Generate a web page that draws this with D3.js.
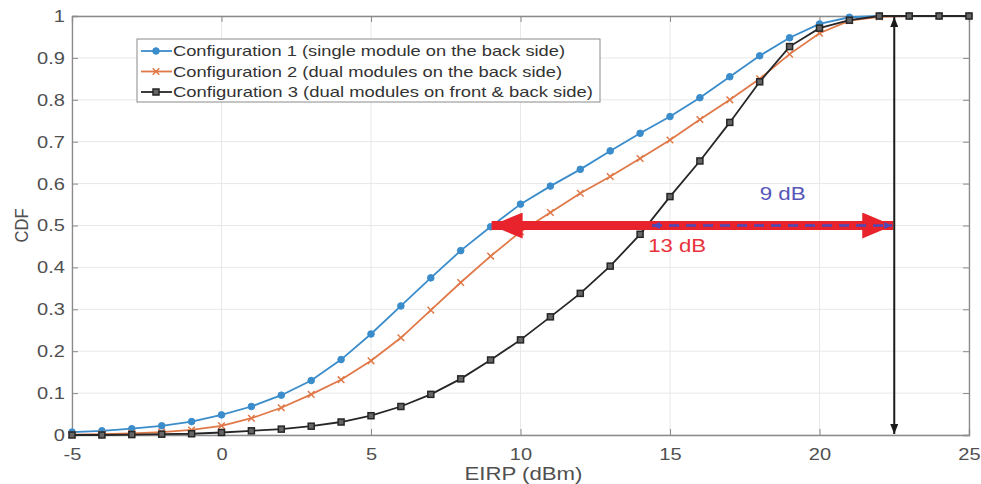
<!DOCTYPE html>
<html>
<head>
<meta charset="utf-8">
<script src="https://cdn.jsdelivr.net/npm/d3@7"></script>
<style>
  body { margin: 0; background: #fff; }
  svg { font-family: "Liberation Sans", Arial, sans-serif; }
</style>
</head>
<body>
<svg id="chart" width="981" height="484"></svg>
<script>
// EIRP values (dBm)
const eirp = d3.range(-5, 26);
// CDF values
const config1 = [0.007, 0.01, 0.015, 0.022, 0.032, 0.048, 0.068, 0.095, 0.13, 0.18, 0.241,
  0.308, 0.375, 0.44, 0.497, 0.551, 0.594, 0.634, 0.678, 0.72, 0.76, 0.805, 0.855, 0.905,
  0.948, 0.981, 0.997, 1, 1, 1, 1];
const config2 = [0.001, 0.002, 0.004, 0.007, 0.012, 0.022, 0.04, 0.065, 0.097, 0.132, 0.177,
  0.232, 0.298, 0.364, 0.427, 0.485, 0.531, 0.577, 0.617, 0.66, 0.704, 0.753, 0.8, 0.85,
  0.909, 0.959, 0.989, 0.998, 1, 1, 1];
const config3 = [0, 0, 0.001, 0.002, 0.003, 0.006, 0.01, 0.014, 0.021, 0.031, 0.046,
  0.068, 0.097, 0.134, 0.179, 0.227, 0.282, 0.338, 0.403, 0.479, 0.569, 0.654, 0.746, 0.843,
  0.927, 0.971, 0.99, 1, 1, 1, 1];
const xTicks = [-5, 0, 5, 10, 15, 20, 25];
const yTicks = [0, 0.1, 0.2, 0.3, 0.4, 0.5, 0.6, 0.7, 0.8, 0.9, 1];
const legendLabels = [
  'Configuration 1 (single module on the back side)',
  'Configuration 2 (dual modules on the back side)',
  'Configuration 3 (dual modules on front & back  side)'
];
// annotation values
const refCdf = 0.5;
const gapStart13 = 9, gapStart9 = 14.4, gapEnd = 22.5;

const margin = { top: 16, right: 12, bottom: 49, left: 72 };
const svg = d3.select('#chart');
const width = 981 - margin.left - margin.right;
const height = 484 - margin.top - margin.bottom;
const g = svg.append('g').attr('transform', `translate(${margin.left},${margin.top})`);

const x = d3.scaleLinear().domain([-5, 25]).range([0, width]);
const y = d3.scaleLinear().domain([0, 1]).range([height, 0]);

// grid
g.append('g').selectAll('line').data(xTicks).join('line')
  .attr('x1', d => x(d)).attr('x2', d => x(d)).attr('y1', 0).attr('y2', height)
  .attr('stroke', '#e8e8e8').attr('stroke-width', 1);
g.append('g').selectAll('line').data(yTicks).join('line')
  .attr('y1', d => y(d)).attr('y2', d => y(d)).attr('x1', 0).attr('x2', width)
  .attr('stroke', '#e8e8e8').attr('stroke-width', 1);

// axes (inner ticks, box)
const axisColor = '#8a8a8a';
const plain = d => d.toString();
const xAxis = g.append('g').attr('transform', `translate(0,${height})`)
  .call(d3.axisBottom(x).tickValues(xTicks).tickSize(-6).tickPadding(13).tickFormat(plain));
const xTop = g.append('g').call(d3.axisTop(x).tickValues(xTicks).tickSize(-6).tickFormat(''));
const yAxis = g.append('g')
  .call(d3.axisLeft(y).tickValues(yTicks).tickSize(-6).tickPadding(7).tickFormat(plain));
const yRight = g.append('g').attr('transform', `translate(${width},0)`)
  .call(d3.axisRight(y).tickValues(yTicks).tickSize(-6).tickFormat(''));
[xAxis, xTop, yAxis, yRight].forEach(a => {
  a.select('.domain').attr('stroke', axisColor).attr('stroke-width', 1.3);
  a.selectAll('.tick line').attr('stroke', axisColor);
  a.selectAll('.tick text').attr('fill', '#505050').style('font-size', '17px')
    .attr('textLength', function () { return this.getComputedTextLength() * 1.18; })
    .attr('lengthAdjust', 'spacingAndGlyphs');
});

// axis labels
g.append('text').attr('x', x(10.1)).attr('y', height + 45)
  .attr('text-anchor', 'middle').attr('fill', '#505050').style('font-size', '18px')
  .attr('textLength', 118).attr('lengthAdjust', 'spacingAndGlyphs')
  .text('EIRP (dBm)');
g.append('text').attr('transform', `translate(${-44},${y(0.5)}) rotate(-90)`)
  .attr('text-anchor', 'middle').attr('fill', '#505050').style('font-size', '18px')
  .attr('textLength', 34).attr('lengthAdjust', 'spacingAndGlyphs')
  .text('CDF');

// series
const series = [
  { values: config1, color: '#3a8ccb', marker: 'circle' },
  { values: config2, color: '#e07848', marker: 'cross' },
  { values: config3, color: '#262626', marker: 'square' }
];
const line = d3.line().x(d => x(d[0])).y(d => y(d[1]));

function drawMarker(sel, type, color) {
  if (type === 'circle') {
    sel.append('circle').attr('r', 3.3).attr('fill', color).attr('stroke', color);
  } else if (type === 'cross') {
    sel.append('path').attr('d', 'M-3.3,-3.3L3.3,3.3M-3.3,3.3L3.3,-3.3')
      .attr('stroke', color).attr('stroke-width', 1.5);
  } else {
    sel.append('rect').attr('x', -3).attr('y', -3).attr('width', 6).attr('height', 6)
      .attr('fill', '#666').attr('stroke', color).attr('stroke-width', 1.5);
  }
}

series.forEach(s => {
  const pts = eirp.map((e, i) => [e, s.values[i]]);
  g.append('path').datum(pts).attr('d', line)
    .attr('fill', 'none').attr('stroke', s.color).attr('stroke-width', 1.8);
  g.append('g').selectAll('g').data(pts).join('g')
    .attr('transform', d => `translate(${x(d[0])},${y(d[1])})`)
    .each(function () { drawMarker(d3.select(this), s.marker, s.color); });
});

// annotations
const defs = svg.append('defs');
function arrowMarker(id, color, w, h) {
  defs.append('marker').attr('id', id).attr('viewBox', `0 0 ${w} ${h}`)
    .attr('refX', w).attr('refY', h / 2).attr('markerWidth', w).attr('markerHeight', h)
    .attr('markerUnits', 'userSpaceOnUse').attr('orient', 'auto-start-reverse')
    .append('path').attr('d', `M0,0L${w},${h / 2}L0,${h}Z`).attr('fill', color);
}
arrowMarker('redHead', '#e8232b', 31, 26);
arrowMarker('blackHead', '#1a1a1a', 10, 8);
arrowMarker('blueHead', '#4a4ab8', 8, 7);

// red double arrow (13 dB)
g.append('line')
  .attr('x1', x(gapStart13) + 1).attr('x2', x(gapEnd) - 1)
  .attr('y1', y(refCdf)).attr('y2', y(refCdf))
  .attr('stroke', '#e8232b').attr('stroke-width', 9)
  .attr('marker-start', 'url(#redHead)').attr('marker-end', 'url(#redHead)');
// blue dashed (9 dB)
g.append('line')
  .attr('x1', x(gapStart9)).attr('x2', x(gapEnd) - 2)
  .attr('y1', y(refCdf)).attr('y2', y(refCdf))
  .attr('stroke', '#4a4ab8').attr('stroke-width', 2.4).attr('stroke-dasharray', '10,7')
  .attr('marker-start', 'url(#blueHead)').attr('marker-end', 'url(#blueHead)');
// black vertical double arrow
g.append('line')
  .attr('x1', x(gapEnd)).attr('x2', x(gapEnd))
  .attr('y1', y(1) + 1).attr('y2', y(0) - 1)
  .attr('stroke', '#1a1a1a').attr('stroke-width', 2)
  .attr('marker-start', 'url(#blackHead)').attr('marker-end', 'url(#blackHead)');

g.append('text').attr('x', x(18)).attr('y', y(refCdf) - 26)
  .attr('fill', '#5656b8').style('font-size', '19px')
  .attr('textLength', 46).attr('lengthAdjust', 'spacingAndGlyphs').text('9 dB');
g.append('text').attr('x', x(14.27)).attr('y', y(refCdf) + 26)
  .attr('fill', '#e8323c').style('font-size', '19px')
  .attr('textLength', 58).attr('lengthAdjust', 'spacingAndGlyphs').text('13 dB');

// legend
const legend = svg.append('g').attr('transform', 'translate(137,39)');
legend.append('rect').attr('width', 463).attr('height', 63)
  .attr('fill', '#fff').attr('stroke', '#8a8a8a').attr('stroke-width', 1);
const legendWidths = [392, 389, 420];
series.forEach((s, i) => {
  const row = legend.append('g').attr('transform', `translate(0,${12 + i * 20.5})`);
  row.append('line').attr('x1', 4).attr('x2', 35).attr('stroke', s.color).attr('stroke-width', 1.8);
  const m = row.append('g').attr('transform', 'translate(19,0)');
  drawMarker(m, s.marker, s.color);
  row.append('text').attr('x', 36).attr('dy', '0.35em')
    .attr('fill', '#333').style('font-size', '14.5px')
    .attr('textLength', legendWidths[i]).attr('lengthAdjust', 'spacingAndGlyphs')
    .text(legendLabels[i]);
});
</script>
</body>
</html>
